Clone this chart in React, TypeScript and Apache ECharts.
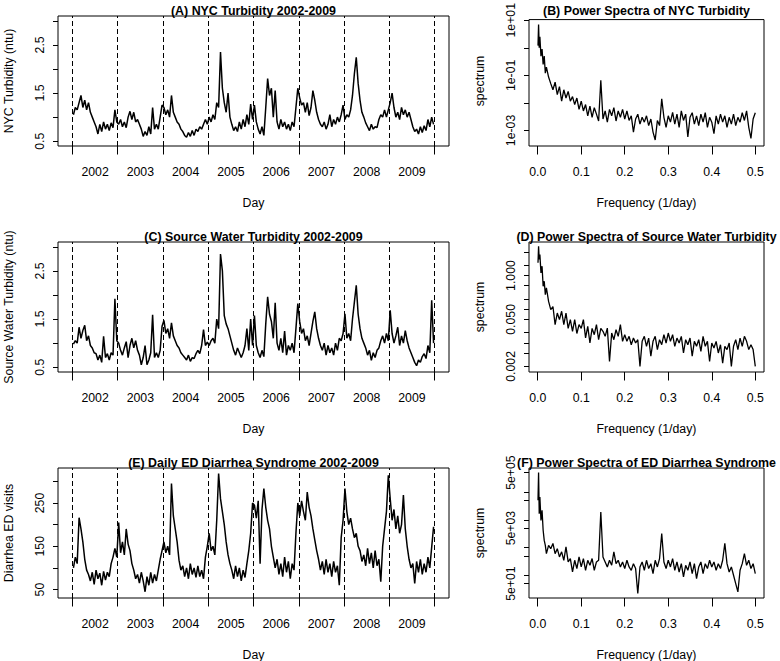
import React, { useEffect, useRef } from "react";
import * as echarts from "echarts";

// ---------- data ----------
const years = [2002, 2003, 2004, 2005, 2006, 2007, 2008, 2009];
const yearLabels = ["2002", "2003", "2004", "2005", "2006", "2007", "2008", "2009"];
const samplesPerYear = 24; // semi-monthly readings

// (A) NYC turbidity (ntu), semi-monthly readings 2002-2009
const nycTurbidity = [
  1.05, 1.2, 1.15, 1.3, 1.45, 1.2, 1.35, 1.15, 1.3, 1.1, 1.0, 0.9, 0.8, 0.65, 0.85, 0.7, 0.9, 0.75, 0.85, 0.72, 0.88, 0.78, 1.15, 0.9,
  0.85, 0.95, 0.8, 0.9, 0.78, 1.0, 1.12, 0.95, 1.1, 0.9, 0.95, 0.85, 0.75, 0.6, 0.7, 0.62, 0.8, 0.65, 1.2, 0.75, 0.85, 0.75, 1.0, 1.25,
  1.2, 1.05, 1.15, 1.0, 1.45, 1.1, 1.0, 0.9, 0.85, 0.75, 0.7, 0.62, 0.58, 0.68, 0.6, 0.72, 0.62, 0.75, 0.7, 0.8, 0.75, 0.85, 0.95, 0.85,
  1.0, 0.9, 1.05, 0.95, 1.3, 1.2, 2.35, 1.6, 1.3, 1.1, 1.5, 1.0, 0.85, 0.72, 0.8, 0.7, 0.9, 0.75, 0.95, 0.8, 1.05, 0.85, 1.27, 0.95,
  1.25, 0.9, 0.75, 0.65, 0.8, 0.62, 1.2, 1.8, 1.45, 1.6, 1.0, 1.55, 0.9, 0.75, 0.95, 0.8, 0.9, 0.75, 0.85, 0.72, 0.9, 0.8, 1.2, 1.6,
  1.4, 1.25, 1.3, 1.1, 1.3, 1.03, 1.2, 1.55, 1.35, 1.1, 0.95, 0.85, 0.8, 0.9, 0.75, 0.85, 1.05, 0.8, 0.95, 0.85, 1.0, 0.9, 1.05, 1.25,
  0.95, 1.05, 1.0, 1.15, 1.45, 1.9, 2.24, 1.7, 1.35, 1.1, 1.0, 0.88, 0.8, 0.72, 0.85, 0.75, 0.8, 0.78, 0.95, 1.05, 1.0, 1.15, 1.0, 1.15,
  1.3, 1.5, 1.2, 1.0, 1.1, 0.95, 1.2, 1.05, 1.15, 1.0, 1.1, 0.95, 0.8, 0.7, 0.75, 0.65, 0.8, 0.68, 0.82, 0.72, 0.95, 0.8, 1.0, 0.85,
];

// (C) Source water turbidity (ntu)
const sourceTurbidity = [
  0.98, 1.05, 1.0, 1.33, 1.1, 1.26, 1.37, 1.05, 1.15, 0.95, 0.9, 0.8, 0.78, 0.65, 0.75, 0.6, 1.14, 0.7, 0.78, 0.65, 0.8, 0.75, 1.92, 1.05,
  1.0, 0.85, 0.75, 0.9, 1.03, 0.7, 0.95, 1.1, 0.9, 1.05, 0.85, 0.75, 0.55, 0.7, 0.95, 0.55, 0.65, 0.8, 1.59, 0.7, 0.8, 0.7, 0.85, 1.35,
  1.47, 1.2, 1.3, 1.1, 1.42, 1.15, 1.05, 0.95, 0.9, 0.8, 0.75, 0.7, 0.65, 0.75, 0.62, 0.7, 0.68, 0.78, 0.85, 0.78, 0.95, 1.28, 0.95, 1.02,
  0.95, 1.05, 1.1, 1.0, 1.5, 1.3, 2.85, 2.5, 1.57, 1.4, 1.3, 1.15, 1.0, 0.85, 0.75, 0.9, 0.8, 0.7, 0.8, 0.95, 1.3, 0.85, 1.5, 0.95,
  1.57, 0.95, 0.8, 0.7, 0.85, 0.72, 1.4, 1.96, 1.6, 1.45, 1.1, 1.84, 1.0, 0.85, 1.1, 0.8, 1.25, 0.75, 0.95, 0.85, 1.0, 0.8, 1.3, 1.82,
  1.45, 1.2, 1.3, 1.05, 1.15, 0.95, 1.2, 1.45, 1.65, 1.3, 1.1, 0.95, 0.85, 1.0, 0.75, 0.95, 0.8, 0.9, 0.75, 1.0, 0.85, 1.1, 1.05, 1.2,
  1.61, 1.1, 1.2, 1.05, 1.5, 1.85, 2.2, 1.6, 1.3, 1.1, 1.0, 0.9, 0.75, 0.85, 0.64, 0.8, 0.7, 0.85, 0.9, 1.05, 1.15, 1.0, 1.2, 1.05,
  1.68, 1.2, 1.0, 1.15, 1.33, 0.95, 1.15, 1.0, 1.26, 1.05, 0.9, 0.8, 0.7, 0.6, 0.53, 0.65, 0.6, 0.72, 0.78, 0.68, 0.95, 0.8, 1.89, 1.0,
];

// (E) Daily ED diarrhea syndrome visits
const edVisits = [
  100, 125, 110, 216, 190, 160, 120, 95, 85, 70, 90, 62, 95, 75, 88, 60, 92, 72, 90, 80, 110, 125, 145, 125,
  205, 135, 160, 130, 190, 155, 140, 110, 95, 75, 85, 65, 90, 70, 45, 80, 60, 90, 65, 85, 70, 95, 120, 140,
  160, 135, 150, 130, 295, 220, 190, 160, 118, 95, 105, 80, 100, 75, 110, 85, 100, 78, 105, 80, 95, 75, 125, 150,
  180, 140, 150, 130, 210, 318, 260, 230, 200, 160, 130, 110, 95, 75, 105, 80, 100, 70, 95, 78, 110, 140, 180, 250,
  245, 215, 255, 110, 235, 283, 240, 210, 190, 150, 125, 100, 120, 85, 110, 80, 125, 90, 115, 75, 110, 95, 180, 250,
  220, 255, 230, 210, 275, 240, 220, 190, 165, 140, 120, 95, 115, 85, 120, 90, 110, 80, 115, 90, 105, 60, 170, 210,
  283, 230, 200, 215, 190, 170, 180, 150, 140, 115, 130, 105, 145, 110, 135, 100, 140, 105, 120, 68, 150, 190, 230, 314,
  260, 210, 235, 190, 220, 180, 200, 268, 190, 150, 120, 100, 110, 64, 115, 90, 120, 85, 110, 90, 125, 100, 148, 195,
];

// spectra: frequency grid (1/day)
const specFreqLow = [0.0007, 0.002, 0.0035, 0.005, 0.0075, 0.01, 0.0125, 0.015, 0.0175, 0.02];
const specFreq = [...specFreqLow, ...Array.from({ length: 96 }, (_, i) => +(0.025 + 0.005 * i).toFixed(3))];

// (B) spectrum of NYC turbidity
const specNyc = [
  1.2, 7, 1.0, 2.5, 0.5, 0.9, 0.25, 0.5, 0.12, 0.2,
  0.087, 0.05, 0.03, 0.057, 0.02, 0.039, 0.0115, 0.03, 0.015, 0.026, 0.0115, 0.017, 0.0087, 0.015, 0.0058, 0.0115,
  0.0051, 0.0087, 0.0034, 0.0076, 0.003, 0.0067, 0.0039, 0.0022, 0.066, 0.0026, 0.0051, 0.002, 0.0058, 0.0034, 0.0067, 0.0022, 0.0051, 0.003, 0.0058, 0.0026,
  0.0051, 0.0023, 0.0034, 0.00087, 0.0026, 0.0039, 0.0017, 0.003, 0.002, 0.0034, 0.0015, 0.0026, 0.00087, 0.00045, 0.0023, 0.0015, 0.014, 0.003, 0.0013, 0.0034,
  0.002, 0.0045, 0.0017, 0.0039, 0.0013, 0.0051, 0.0023, 0.0039, 0.00058, 0.003, 0.0044, 0.0017, 0.0034, 0.0015, 0.0039, 0.002, 0.0044, 0.0013, 0.003, 0.002,
  0.00076, 0.0034, 0.0017, 0.0039, 0.002, 0.0034, 0.0013, 0.003, 0.0017, 0.0039, 0.0015, 0.003, 0.002, 0.0044, 0.0023, 0.0051, 0.0013, 0.00051, 0.0026, 0.0044,
];

// (D) spectrum of source water turbidity
const specSource = [
  2.4, 7.4, 3.0, 4.2, 1.2, 1.9, 0.48, 0.68, 0.27, 0.43,
  0.17, 0.097, 0.12, 0.035, 0.077, 0.049, 0.087, 0.035, 0.077, 0.027, 0.049, 0.022, 0.049, 0.019, 0.035, 0.027,
  0.049, 0.014, 0.031, 0.0099, 0.027, 0.0175, 0.035, 0.0124, 0.027, 0.022, 0.0156, 0.0275, 0.0028, 0.0196, 0.0124, 0.0246, 0.0156, 0.035, 0.0111, 0.0175,
  0.0111, 0.0156, 0.0088, 0.0139, 0.0099, 0.0124, 0.002, 0.0111, 0.0156, 0.0079, 0.0139, 0.004, 0.0111, 0.0156, 0.0063, 0.0124, 0.0088, 0.0175, 0.0099, 0.0196,
  0.0111, 0.0175, 0.0079, 0.0139, 0.0099, 0.0156, 0.005, 0.0124, 0.0088, 0.0139, 0.004, 0.0111, 0.0079, 0.0124, 0.0056, 0.0156, 0.0079, 0.0111, 0.0028, 0.0099,
  0.007, 0.0111, 0.005, 0.0088, 0.0025, 0.0079, 0.0063, 0.0099, 0.002, 0.0079, 0.0124, 0.0063, 0.0139, 0.0079, 0.0156, 0.0111, 0.0063, 0.0088, 0.0063, 0.002,
];

// (F) spectrum of ED diarrhea syndrome
const specEd = [
  5.0e4, 5e5, 1.66e4, 6.6e4, 9.5e3, 2.2e4, 4.2e3, 1.8e3, 1.2e3, 600,
  1200, 910, 1400, 600, 910, 457, 700, 346, 1050, 302, 400, 131, 346, 174, 457, 199,
  400, 151, 346, 229, 400, 151, 302, 346, 19000, 457, 302, 199, 346, 229, 700, 262, 346, 199, 302, 174,
  346, 199, 151, 262, 174, 22, 199, 302, 151, 346, 174, 262, 115, 346, 199, 400, 3200, 302, 174, 346,
  199, 400, 151, 302, 131, 262, 87, 229, 151, 302, 115, 262, 76, 199, 302, 115, 262, 174, 346, 199,
  302, 151, 262, 174, 346, 1400, 262, 131, 199, 100, 50, 25, 151, 262, 600, 229, 346, 174, 262, 115,
];

// axis ticks / labels
const turbTicks = [0.5, 1, 1.5, 2, 2.5, 3];
const turbLabels = [0.5, 1.5, 2.5];
const edTicks = [50, 100, 150, 200, 250, 300];
const edLabels = [50, 150, 250];
const freqTicks = [0, 0.1, 0.2, 0.3, 0.4, 0.5];
const specNycTicks = [1e-3, 1e-2, 1e-1, 1, 10];
const specNycLabelVals = [1e-3, 1e-1, 10];
const specNycLabelText = ["1e-03", "1e-01", "1e+01"];
const specSourceTicks = [0.002, 0.005, 0.01, 0.02, 0.05, 0.1, 0.2, 0.5, 1, 2, 5];
const specSourceLabelVals = [0.002, 0.05, 1];
const specSourceLabelText = ["0.002", "0.050", "1.000"];
const specEdTicks = [50, 100, 500, 1000, 5000, 1e4, 5e4, 1e5, 5e5];
const specEdLabelVals = [50, 5000, 5e5];
const specEdLabelText = ["5e+01", "5e+03", "5e+05"];

// ---------- layout ----------
const FONT = '"Liberation Sans", Arial, Helvetica, sans-serif';
const FS = 12.3;
const COLS = [
  { left: 58, width: 391 },
  { left: 529, width: 235 },
];
const ROW_TOPS = [16, 242, 468];
const BOX_H = 130;

type Box = { left: number; top: number; width: number; height: number };
const boxOf = (r: number, c: number): Box => ({ left: COLS[c].left, top: ROW_TOPS[r], width: COLS[c].width, height: BOX_H });

const labelStyle = { fontSize: FS, color: "#000", fontFamily: FONT };
const tickLine = { color: "#000", width: 1 };

function timeData(values: number[]) {
  return values.map((v, i) => [years[0] + (i + 0.5) / samplesPerYear, v]);
}
function specData(values: number[]) {
  return specFreq.map((f, i) => [f, Math.log10(values[i])]);
}

function buildOption() {
  const grids: any[] = [];
  const xAxes: any[] = [];
  const yAxes: any[] = [];
  const series: any[] = [];
  const graphics: any[] = [];

  const yearTicks = [...years, years[years.length - 1] + 1];

  const timePanels = [
    { row: 0, title: "(A) NYC Turbidity 2002-2009", ylab: "NYC Turbidity (ntu)", data: nycTurbidity, ymin: 0.4, ymax: 3.1, ticks: turbTicks, labels: turbLabels },
    { row: 1, title: "(C) Source Water Turbidity 2002-2009", ylab: "Source Water Turbidity (ntu)", data: sourceTurbidity, ymin: 0.4, ymax: 3.1, ticks: turbTicks, labels: turbLabels },
    { row: 2, title: "(E) Daily ED Diarrhea Syndrome 2002-2009", ylab: "Diarrhea ED visits", data: edVisits, ymin: 30.6, ymax: 330.7, ticks: edTicks, labels: edLabels },
  ];
  const specPanels = [
    { row: 0, title: "(B) Power Spectra of NYC Turbidity", data: specNyc, ymin: -3.565, ymax: 1.025, ticks: specNycTicks, lv: specNycLabelVals, lt: specNycLabelText },
    { row: 1, title: "(D) Power Spectra of Source Water Turbidity", data: specSource, ymin: -2.866, ymax: 0.997, ticks: specSourceTicks, lv: specSourceLabelVals, lt: specSourceLabelText },
    { row: 2, title: "(F) Power Spectra of ED Diarrhea Syndrome", data: specEd, ymin: 1.18, ymax: 5.865, ticks: specEdTicks, lv: specEdLabelVals, lt: specEdLabelText },
  ];

  const addText = (text: string, x: number, y: number, bold = false, rotation = 0) => {
    graphics.push({
      type: "text",
      x,
      y,
      rotation,
      silent: true,
      style: {
        text,
        fill: "#000",
        font: `${bold ? "bold " : ""}${bold ? 12.4 : FS}px ${FONT}`,
        align: "center",
        verticalAlign: "middle",
        textAlign: "center",
        textVerticalAlign: "middle",
      },
    });
  };

  const addGrid = (box: Box) => {
    grids.push({ ...box, show: true, borderColor: "#000", borderWidth: 1, backgroundColor: "transparent" });
    return grids.length - 1;
  };

  timePanels.forEach((p) => {
    const box = boxOf(p.row, 0);
    const gi = addGrid(box);
    xAxes.push({
      gridIndex: gi,
      type: "value",
      min: 2001.68,
      max: 2010.32,
      axisLine: { show: false, onZero: false },
      splitLine: { show: false },
      axisTick: { show: true, length: 8.5, customValues: yearTicks, lineStyle: tickLine },
      axisLabel: {
        ...labelStyle,
        margin: 19.5,
        customValues: years.map((y) => y + 0.5),
        formatter: (v: number) => yearLabels[Math.round(v - 0.5) - years[0]] ?? "",
      },
    });
    yAxes.push({
      gridIndex: gi,
      type: "value",
      min: p.ymin,
      max: p.ymax,
      axisLine: { show: false, onZero: false },
      splitLine: { show: false },
      axisTick: { show: true, length: 5, customValues: p.ticks, lineStyle: tickLine },
      axisLabel: { ...labelStyle, rotate: 90, margin: 12, customValues: p.labels, formatter: (v: number) => String(v) },
    });
    series.push({
      type: "line",
      xAxisIndex: gi,
      yAxisIndex: gi,
      data: timeData(p.data),
      showSymbol: false,
      symbol: "none",
      lineStyle: { color: "#000", width: 1.5 },
      silent: true,
      markLine: {
        silent: true,
        symbol: ["none", "none"],
        label: { show: false },
        lineStyle: { color: "#000", width: 1, type: [5, 3] },
        data: yearTicks.map((y) => ({ xAxis: y })),
      },
    });
    addText(p.title, box.left + box.width / 2, box.top - 5, true);
    addText("Day", box.left + box.width / 2, box.top + box.height + 57);
    addText(p.ylab, box.left - 49, box.top + box.height / 2, false, Math.PI / 2);
  });

  specPanels.forEach((p) => {
    const box = boxOf(p.row, 1);
    const gi = addGrid(box);
    xAxes.push({
      gridIndex: gi,
      type: "value",
      min: -0.02,
      max: 0.52,
      axisLine: { show: false, onZero: false },
      splitLine: { show: false },
      axisTick: { show: true, length: 8.5, customValues: freqTicks, lineStyle: tickLine },
      axisLabel: { ...labelStyle, margin: 19.5, customValues: freqTicks, formatter: (v: number) => v.toFixed(1) },
    });
    const logLabelVals = p.lv.map((v) => Math.log10(v));
    yAxes.push({
      gridIndex: gi,
      type: "value",
      min: p.ymin,
      max: p.ymax,
      axisLine: { show: false, onZero: false },
      splitLine: { show: false },
      axisTick: { show: true, length: 5, customValues: p.ticks.map((v) => Math.log10(v)), lineStyle: tickLine },
      axisLabel: {
        ...labelStyle,
        rotate: 90,
        margin: 12,
        customValues: logLabelVals,
        formatter: (v: number) => {
          const idx = logLabelVals.findIndex((l) => Math.abs(l - v) < 1e-6);
          return idx >= 0 ? p.lt[idx] : "";
        },
      },
    });
    series.push({
      type: "line",
      xAxisIndex: gi,
      yAxisIndex: gi,
      data: specData(p.data),
      showSymbol: false,
      symbol: "none",
      lineStyle: { color: "#000", width: 1.3 },
      silent: true,
    });
    addText(p.title, box.left + box.width / 2, box.top - 5, true);
    addText("Frequency (1/day)", box.left + box.width / 2, box.top + box.height + 57);
    addText("spectrum", box.left - 49, box.top + box.height / 2, false, Math.PI / 2);
  });

  return {
    animation: false,
    backgroundColor: "#fff",
    grid: grids,
    xAxis: xAxes,
    yAxis: yAxes,
    series,
    graphic: { elements: graphics },
  };
}

export default function App() {
  const ref = useRef<HTMLDivElement>(null);
  useEffect(() => {
    if (!ref.current) return;
    const chart = echarts.init(ref.current, null, { renderer: "svg" });
    chart.setOption(buildOption() as any);
    return () => chart.dispose();
  }, []);
  return (
    <div
      ref={ref}
      style={{ position: "absolute", left: 0, top: 0, width: 780, height: 661, background: "#fff" }}
    />
  );
}
